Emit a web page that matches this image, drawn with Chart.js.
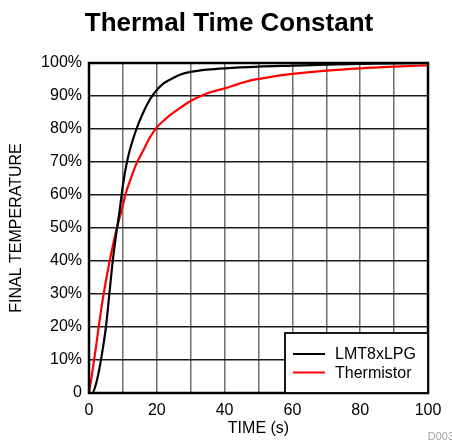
<!DOCTYPE html>
<html>
<head>
<meta charset="utf-8">
<script src="https://cdn.jsdelivr.net/npm/chart.js@4"></script>
<style>
  html, body { margin: 0; padding: 0; background: #fff; }
  #wrap { width: 452px; height: 441px; }
</style>
</head>
<body>
<div id="wrap"><canvas id="tauChart" width="452" height="441"></canvas></div>
<script>
const lmtTime = [0, 1, 2, 3, 4, 5, 6, 7, 8, 9, 10, 11, 12, 14, 16, 18, 20, 22, 24, 27, 30, 35, 40, 50, 60, 70, 80, 90, 100];
const lmtTemp = [0, 0, 2.5, 7, 13, 20, 30, 40, 48, 55, 63, 69, 73.5, 80, 85, 89, 91.8, 93.8, 95, 96.5, 97.3, 98, 98.4, 98.9, 99.2, 99.5, 99.7, 99.9, 100];
const thermTime = [0, 1, 2, 3, 4, 5, 6, 7, 8, 9, 10, 11, 12, 14, 16, 18, 20, 22, 24, 27, 30, 33, 36, 40, 44, 48, 52, 56, 60, 70, 80, 90, 100];
const thermTemp = [0, 6.5, 13.5, 21, 28, 34, 39.5, 44.5, 49, 53, 57, 61, 64, 69.5, 73.5, 77.5, 80.5, 82.5, 84.3, 86.5, 88.5, 90, 91.2, 92.3, 93.6, 94.8, 95.5, 96.2, 96.7, 97.7, 98.4, 98.9, 99.3];
const seriesNames = ["LMT8xLPG", "Thermistor"];
const seriesColors = ["#000000", "#ff0000"];
const xLabels = [0, 20, 40, 60, 80, 100];

const FONT = "'Liberation Sans', Arial, sans-serif";
const toPoints = (xs, ys) => xs.map((x, i) => ({ x: x, y: ys[i] }));

// title, frame, legend box and footnote
const decorations = {
  id: "decorations",
  afterDatasetsDraw(chart) {
    const { ctx, chartArea: a } = chart;
    ctx.save();
    ctx.fillStyle = "#000";
    ctx.font = "bold 26px " + FONT;
    ctx.textAlign = "center";
    ctx.textBaseline = "middle";
    ctx.fillText("Thermal Time Constant", 229, 24);

    ctx.strokeStyle = "#000";
    ctx.lineWidth = 2.5;
    ctx.strokeRect(a.left, a.top, a.right - a.left, a.bottom - a.top);

    const bw = 143, bh = 60;
    const bx = a.right - bw, by = a.bottom - bh;
    ctx.fillStyle = "#fff";
    ctx.fillRect(bx, by, bw, bh);
    ctx.lineWidth = 1.8;
    ctx.strokeRect(bx, by, bw, bh);

    ctx.font = "16px " + FONT;
    ctx.textAlign = "left";
    seriesNames.forEach((name, i) => {
      const y = by + 21 + i * 18.5;
      ctx.strokeStyle = seriesColors[i];
      ctx.lineWidth = 2;
      ctx.beginPath();
      ctx.moveTo(bx + 8, y);
      ctx.lineTo(bx + 40, y);
      ctx.stroke();
      ctx.fillStyle = "#000";
      ctx.fillText(name, bx + 50, y + 1);
    });

    ctx.font = "11px " + FONT;
    ctx.fillStyle = "#a0a0a0";
    ctx.textAlign = "right";
    ctx.fillText("D003", 454, 437);
    ctx.restore();
  }
};

new Chart(document.getElementById("tauChart").getContext("2d"), {
  type: "line",
  data: {
    datasets: [
      { label: seriesNames[0], data: toPoints(lmtTime, lmtTemp), borderColor: seriesColors[0] },
      { label: seriesNames[1], data: toPoints(thermTime, thermTemp), borderColor: seriesColors[1] }
    ]
  },
  options: {
    responsive: false,
    animation: false,
    layout: { padding: { left: 0, right: 24, top: 63, bottom: 0 } },
    elements: {
      point: { radius: 0 },
      line: { borderWidth: 2.2, cubicInterpolationMode: "monotone", fill: false }
    },
    plugins: {
      legend: { display: false },
      tooltip: { enabled: false },
      title: { display: false }
    },
    scales: {
      x: {
        type: "linear",
        min: 0,
        max: 100,
        afterFit: s => { s.height = 48; },
        afterBuildTicks: s => { s.ticks = Array.from({ length: 11 }, (_, i) => ({ value: i * 10 })); },
        ticks: {
          color: "#000",
          font: { family: FONT, size: 16 },
          padding: 8,
          maxRotation: 0,
          callback: v => (xLabels.includes(v) ? String(v) : "")
        },
        grid: { color: "#6e6e6e", lineWidth: 1.5, drawTicks: false },
        border: { display: false },
        title: {
          display: true,
          text: "TIME (s)",
          color: "#000",
          font: { family: FONT, size: 16 },
          padding: { top: 0, bottom: 3 }
        }
      },
      y: {
        min: 0,
        max: 100,
        afterFit: s => { s.width = 89; },
        afterBuildTicks: s => { s.ticks = Array.from({ length: 11 }, (_, i) => ({ value: i * 10 })); },
        ticks: {
          color: "#000",
          font: { family: FONT, size: 16 },
          padding: 7,
          callback: v => (v === 0 ? "0" : v + "%")
        },
        grid: { color: "#1a1a1a", lineWidth: 1.5, drawTicks: false },
        border: { display: false },
        title: {
          display: true,
          text: "FINAL TEMPERATURE",
          color: "#000",
          font: { family: FONT, size: 16 },
          padding: { top: 7, bottom: 0 }
        }
      }
    }
  },
  plugins: [decorations]
});
</script>
</body>
</html>
